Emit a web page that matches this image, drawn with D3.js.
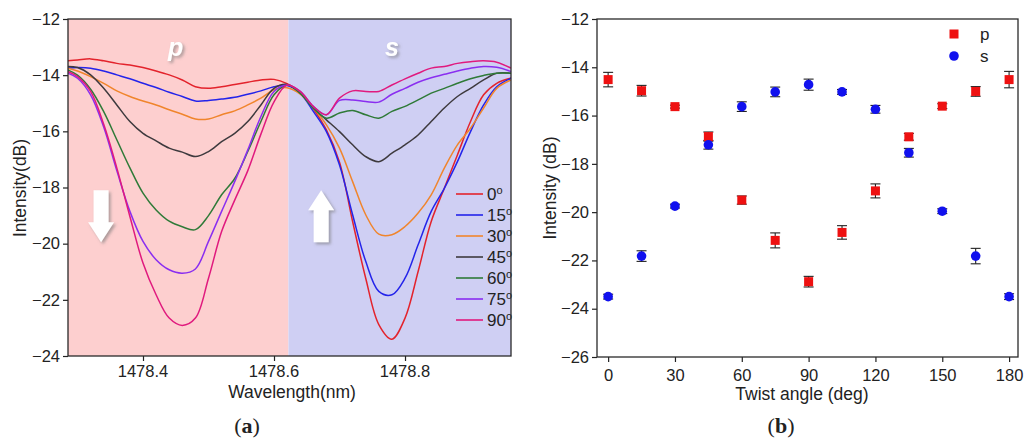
<!DOCTYPE html>
<html>
<head>
<meta charset="utf-8">
<script src="https://cdn.jsdelivr.net/npm/d3@7"></script>
<style>
  body { margin: 0; background: #fff; }
  text { font-family: "Liberation Sans", Arial, sans-serif; fill: #222; }
</style>
</head>
<body>
<svg id="chart" width="1026" height="439"></svg>
<script>
// (a) transmission spectra, one line per twist angle
const wavelength = [1478.285, 1478.30, 1478.32, 1478.34, 1478.36, 1478.38, 1478.40, 1478.42, 1478.44,
  1478.46, 1478.48, 1478.50, 1478.52, 1478.54, 1478.56, 1478.58, 1478.60, 1478.62, 1478.64, 1478.66,
  1478.68, 1478.70, 1478.72, 1478.74, 1478.76, 1478.78, 1478.80, 1478.82, 1478.84, 1478.86, 1478.88,
  1478.90, 1478.92, 1478.94, 1478.962];

const spec0 = [-13.49, -13.46, -13.42, -13.49, -13.58, -13.64, -13.73, -13.85, -13.99, -14.17, -14.41, -14.47,
  -14.41, -14.33, -14.25, -14.17, -14.15, -14.30, -14.60, -15.20, -15.95, -17.10, -19.21, -21.23, -22.88,
  -23.40, -22.65, -20.99, -19.21, -18.03, -16.84, -15.65, -14.70, -14.29, -14.10];
const spec15 = [-13.75, -13.73, -13.75, -13.85, -13.99, -14.13, -14.29, -14.44, -14.61, -14.76, -14.92, -14.90,
  -14.85, -14.79, -14.68, -14.56, -14.41, -14.37, -14.64, -15.29, -16.01, -17.20, -18.97, -20.63, -21.70,
  -21.82, -21.23, -20.04, -18.85, -18.03, -17.08, -16.01, -15.06, -14.41, -14.11];
const spec30 = [-13.75, -13.85, -14.05, -14.29, -14.56, -14.76, -14.92, -15.06, -15.23, -15.39, -15.56, -15.56,
  -15.41, -15.27, -15.06, -14.82, -14.52, -14.45, -14.68, -15.17, -15.77, -16.60, -17.79, -18.97, -19.66,
  -19.68, -19.39, -18.91, -18.26, -17.31, -16.48, -15.89, -15.17, -14.47, -14.17];
const spec45 = [-13.69, -13.73, -13.99, -14.47, -15.06, -15.65, -16.07, -16.34, -16.60, -16.74, -16.90, -16.72,
  -16.37, -16.07, -15.65, -15.06, -14.47, -14.33, -14.64, -15.17, -15.59, -16.01, -16.48, -16.90, -17.08,
  -16.78, -16.48, -16.13, -15.65, -15.17, -14.76, -14.47, -14.17, -13.93, -13.93];
const spec60 = [-13.81, -14.00, -14.50, -15.30, -16.30, -17.30, -18.20, -18.80, -19.20, -19.40, -19.50, -19.00,
  -18.26, -17.68, -16.72, -15.65, -14.70, -14.35, -14.64, -15.17, -15.53, -15.35, -15.26, -15.41, -15.53,
  -15.29, -15.11, -14.88, -14.64, -14.47, -14.29, -14.13, -14.01, -13.93, -13.93];
const spec75 = [-13.93, -14.11, -14.70, -15.85, -17.40, -18.85, -19.92, -20.57, -20.93, -21.05, -20.90, -19.92,
  -18.85, -17.79, -16.66, -15.47, -14.58, -14.35, -14.58, -15.11, -15.41, -14.90, -14.88, -14.94, -14.96,
  -14.68, -14.47, -14.25, -14.09, -13.97, -13.85, -13.75, -13.69, -13.72, -13.87];
const spec90 = [-13.87, -14.05, -14.58, -15.75, -17.30, -19.03, -20.69, -21.82, -22.65, -22.91, -22.65, -21.23,
  -19.57, -18.45, -17.40, -16.10, -14.95, -14.35, -14.58, -15.11, -15.41, -14.82, -14.56, -14.58, -14.58,
  -14.35, -14.13, -13.93, -13.75, -13.69, -13.58, -13.52, -13.49, -13.54, -13.75];

const spectra = [spec0, spec15, spec30, spec45, spec60, spec75, spec90];
const angleNames = ['0', '15', '30', '45', '60', '75', '90'];
const lineColors = ['#e3232c', '#2424ea', '#f0852c', '#3e3a3e', '#2f7a38', '#8a2ef0', '#e01a7e'];

const ticksA_x = [1478.4, 1478.6, 1478.8];
const ticksA_xLabels = ['1478.4', '1478.6', '1478.8'];
const ticksA_y = [-24, -22, -20, -18, -16, -14, -12];
const splitWavelength = 1478.622;

// (b) dip intensity against twist angle
const twistAngle = [0, 15, 30, 45, 60, 75, 90, 105, 120, 135, 150, 165, 180];
const pIntensity = [-14.51, -14.97, -15.63, -16.87, -19.50, -21.17, -22.88, -20.84, -19.12, -16.88, -15.61, -15.00, -14.51];
const pError = [0.30, 0.22, 0.06, 0.19, 0.17, 0.31, 0.22, 0.28, 0.29, 0.14, 0.10, 0.20, 0.34];
const sIntensity = [-23.50, -21.82, -19.75, -17.21, -15.63, -15.02, -14.72, -15.02, -15.74, -17.54, -19.96, -21.82, -23.50];
const sError = [0.10, 0.22, 0.08, 0.18, 0.20, 0.20, 0.23, 0.10, 0.16, 0.18, 0.10, 0.32, 0.12];

const ticksB_x = [0, 30, 60, 90, 120, 150, 180];
const ticksB_y = [-26, -24, -22, -20, -18, -16, -14, -12];

const svg = d3.select('#chart');

const defs = svg.append('defs');
const shadow = defs.append('filter').attr('id', 'shadow')
  .attr('x', '-30%').attr('y', '-30%').attr('width', '160%').attr('height', '160%');
shadow.append('feDropShadow')
  .attr('dx', 2).attr('dy', 2).attr('stdDeviation', 1.6)
  .attr('flood-color', '#777').attr('flood-opacity', 0.6);

// ---------- panel (a) ----------
const ax = d3.scaleLinear().domain([1478.2855, 1478.9618]).range([68, 511]);
const ay = d3.scaleLinear().domain([-24, -12]).range([356, 19]);

defs.append('clipPath').attr('id', 'clipA')
  .append('rect').attr('x', 68).attr('y', 19).attr('width', 443).attr('height', 337);

const gA = svg.append('g');

gA.append('rect')
  .attr('x', ax(ax.domain()[0])).attr('y', ay(-12))
  .attr('width', ax(splitWavelength) - ax(ax.domain()[0]))
  .attr('height', ay(-24) - ay(-12))
  .attr('fill', '#fdcfcf');
gA.append('rect')
  .attr('x', ax(splitWavelength)).attr('y', ay(-12))
  .attr('width', ax(ax.domain()[1]) - ax(splitWavelength))
  .attr('height', ay(-24) - ay(-12))
  .attr('fill', '#cfcff3');

// p / s labels
gA.append('text')
  .attr('x', ax(1478.45)).attr('y', ay(-13.3))
  .attr('text-anchor', 'middle')
  .style('font-size', '25px').style('font-weight', 'bold').style('font-style', 'italic')
  .style('fill', '#fff').attr('filter', 'url(#shadow)')
  .text('p');
gA.append('text')
  .attr('x', ax(1478.78)).attr('y', ay(-13.3))
  .attr('text-anchor', 'middle')
  .style('font-size', '25px').style('font-weight', 'bold').style('font-style', 'italic')
  .style('fill', '#fff').attr('filter', 'url(#shadow)')
  .text('s');

// white arrows
function arrow(cx, yTail, yTip) {
  const x = ax(cx), t = ay(yTail), p = ay(yTip);
  const dir = Math.sign(p - t);
  const neck = p - dir * 20;
  return `M${x - 7.5},${t} L${x + 7.5},${t} L${x + 7.5},${neck} L${x + 13},${neck} L${x},${p} ` +
    `L${x - 13},${neck} L${x - 7.5},${neck} Z`;
}
gA.append('path').attr('d', arrow(1478.336, -18.1, -19.95))
  .attr('fill', '#fff').attr('filter', 'url(#shadow)');
gA.append('path').attr('d', arrow(1478.672, -19.95, -18.1))
  .attr('fill', '#fff').attr('filter', 'url(#shadow)');

const line = d3.line()
  .x((d, i) => ax(wavelength[i]))
  .y(d => ay(d))
  .curve(d3.curveCatmullRom.alpha(0.5));

gA.append('g').attr('clip-path', 'url(#clipA)')
  .selectAll('path')
  .data(spectra)
  .enter()
  .append('path')
  .attr('d', line)
  .attr('fill', 'none')
  .attr('stroke', (d, i) => lineColors[i])
  .attr('stroke-width', 1.5);

// legend for (a)
const legA = gA.append('g').selectAll('g')
  .data(angleNames)
  .enter()
  .append('g')
  .attr('transform', (d, i) => `translate(456, ${194 + i * 21})`);
legA.append('line')
  .attr('x1', 0).attr('x2', 27)
  .attr('stroke', (d, i) => lineColors[i])
  .attr('stroke-width', 1.6);
const legAText = legA.append('text')
  .attr('x', 31).attr('y', 6)
  .style('font-size', '17px');
legAText.append('tspan').text(d => d);
legAText.append('tspan').attr('dy', -6).style('font-size', '11px').text('o');

// axes (a) - tick marks from the axis, labels written from the label list
gA.append('g')
  .attr('transform', 'translate(0,356)')
  .call(d3.axisBottom(ax).tickValues(ticksA_x).tickFormat('').tickSizeInner(5).tickSizeOuter(0))
  .call(g => g.select('.domain').remove());
gA.append('g').selectAll('text')
  .data(ticksA_x)
  .enter()
  .append('text')
  .attr('x', d => ax(d))
  .attr('y', 377)
  .attr('text-anchor', 'middle')
  .style('font-size', '16.5px')
  .text((d, i) => ticksA_xLabels[i]);
gA.append('g')
  .attr('transform', 'translate(68,0)')
  .call(d3.axisLeft(ay).tickValues(ticksA_y).tickSizeInner(5).tickSizeOuter(0))
  .call(g => g.selectAll('text').style('font-size', '16.5px').attr('x', -8).style('fill', '#222'))
  .call(g => g.select('.domain').remove());
gA.selectAll('.tick line').attr('stroke', '#222').attr('stroke-width', 1.2);

gA.append('rect')
  .attr('x', 68).attr('y', 19).attr('width', 443).attr('height', 337)
  .attr('fill', 'none').attr('stroke', '#2a2a2a').attr('stroke-width', 1.3);

gA.append('text')
  .attr('x', 292).attr('y', 398)
  .attr('text-anchor', 'middle').style('font-size', '17.5px')
  .text('Wavelength(nm)');
gA.append('text')
  .attr('transform', 'translate(26,188) rotate(-90)')
  .attr('text-anchor', 'middle').style('font-size', '17.5px')
  .text('Intensity(dB)');

const capA = gA.append('text')
  .attr('x', 247).attr('y', 433)
  .attr('text-anchor', 'middle')
  .style('font-family', '"Liberation Serif", "Times New Roman", serif').style('font-size', '22px');
capA.append('tspan').text('(');
capA.append('tspan').style('font-weight', 'bold').text('a');
capA.append('tspan').text(')');

// ---------- panel (b) ----------
const bx = d3.scaleLinear().domain([-5, 184]).range([597, 1018]);
const by = d3.scaleLinear().domain([-26, -12]).range([357, 19]);

const gB = svg.append('g');

gB.append('g')
  .attr('transform', 'translate(0,357)')
  .call(d3.axisBottom(bx).tickValues(ticksB_x).tickSizeInner(5).tickSizeOuter(0))
  .call(g => g.selectAll('text').style('font-size', '16.5px').attr('dy', '0.94em').style('fill', '#222'))
  .call(g => g.select('.domain').remove());
gB.append('g')
  .attr('transform', 'translate(597,0)')
  .call(d3.axisLeft(by).tickValues(ticksB_y).tickSizeInner(5).tickSizeOuter(0))
  .call(g => g.selectAll('text').style('font-size', '16.5px').attr('x', -8).style('fill', '#222'))
  .call(g => g.select('.domain').remove());
gB.selectAll('.tick line').attr('stroke', '#222').attr('stroke-width', 1.2);

gB.append('rect')
  .attr('x', 597).attr('y', 19).attr('width', 421).attr('height', 338)
  .attr('fill', 'none').attr('stroke', '#2a2a2a').attr('stroke-width', 1.3);

function errorBars(values, errors) {
  const g = gB.append('g').attr('stroke', '#222').attr('stroke-width', 1.1);
  const item = g.selectAll('g').data(twistAngle).enter().append('g');
  item.append('line')
    .attr('x1', d => bx(d)).attr('x2', d => bx(d))
    .attr('y1', (d, i) => by(values[i] + errors[i]))
    .attr('y2', (d, i) => by(values[i] - errors[i]));
  [1, -1].forEach(s => {
    item.append('line')
      .attr('x1', d => bx(d) - 5).attr('x2', d => bx(d) + 5)
      .attr('y1', (d, i) => by(values[i] + s * errors[i]))
      .attr('y2', (d, i) => by(values[i] + s * errors[i]));
  });
}
errorBars(pIntensity, pError);
errorBars(sIntensity, sError);

gB.append('g').selectAll('rect')
  .data(twistAngle)
  .enter()
  .append('rect')
  .attr('x', d => bx(d) - 4.5)
  .attr('y', (d, i) => by(pIntensity[i]) - 4.5)
  .attr('width', 9).attr('height', 9)
  .attr('fill', '#ee1111');

gB.append('g').selectAll('circle')
  .data(twistAngle)
  .enter()
  .append('circle')
  .attr('cx', d => bx(d))
  .attr('cy', (d, i) => by(sIntensity[i]))
  .attr('r', 4.8)
  .attr('fill', '#1111ee');

// legend for (b)
gB.append('rect').attr('x', 949.5).attr('y', 29.5).attr('width', 9).attr('height', 9).attr('fill', '#ee1111');
gB.append('text').attr('x', 980).attr('y', 40).style('font-size', '17px').text('p');
gB.append('circle').attr('cx', 954).attr('cy', 56).attr('r', 4.8).attr('fill', '#1111ee');
gB.append('text').attr('x', 980).attr('y', 62).style('font-size', '17px').text('s');

gB.append('text')
  .attr('x', 802).attr('y', 400)
  .attr('text-anchor', 'middle').style('font-size', '17.5px')
  .text('Twist angle (deg)');
gB.append('text')
  .attr('transform', 'translate(556,188) rotate(-90)')
  .attr('text-anchor', 'middle').style('font-size', '17.5px')
  .text('Intensity (dB)');

const capB = gB.append('text')
  .attr('x', 781).attr('y', 433)
  .attr('text-anchor', 'middle')
  .style('font-family', '"Liberation Serif", "Times New Roman", serif').style('font-size', '22px');
capB.append('tspan').text('(');
capB.append('tspan').style('font-weight', 'bold').text('b');
capB.append('tspan').text(')');
</script>
</body>
</html>
